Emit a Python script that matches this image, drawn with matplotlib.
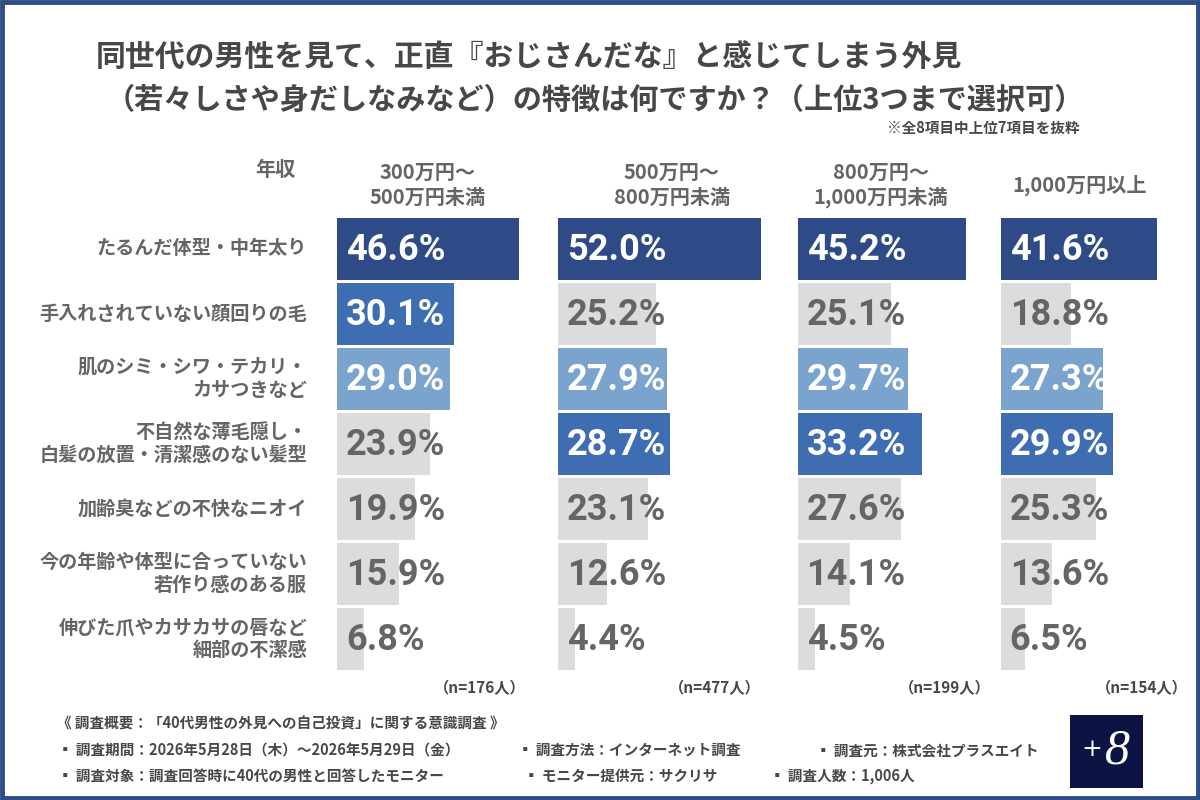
import matplotlib
matplotlib.use("Agg")
import matplotlib.pyplot as plt
from matplotlib.patches import Rectangle

plt.rcParams['font.family'] = ['Noto Sans CJK JP', 'DejaVu Sans']

# data
items = [
    'たるんだ体型・中年太り',
    '手入れされていない顔回りの毛',
    '肌のシミ・シワ・テカリ・\nカサつきなど',
    '不自然な薄毛隠し・\n白髪の放置・清潔感のない髪型',
    '加齢臭などの不快なニオイ',
    '今の年齢や体型に合っていない\n若作り感のある服',
    '伸びた爪やカサカサの唇など\n細部の不潔感',
]
groups = ['300万円～\n500万円未満', '500万円～\n800万円未満', '800万円～\n1,000万円未満', '1,000万円以上']
n_labels = ['（n=176人）', '（n=477人）', '（n=199人）', '（n=154人）']
inc_300_500 = [46.6, 30.1, 29.0, 23.9, 19.9, 15.9, 6.8]
inc_500_800 = [52.0, 25.2, 27.9, 28.7, 23.1, 12.6, 4.4]
inc_800_1000 = [45.2, 25.1, 29.7, 33.2, 27.6, 14.1, 4.5]
inc_1000_up = [41.6, 18.8, 27.3, 29.9, 25.3, 13.6, 6.5]
values = [inc_300_500, inc_500_800, inc_800_1000, inc_1000_up]

rank_colors = ['#2e4b88', '#3e6db1', '#7aa3cd']
gray_bar = '#dcdcdf'
text_dark = '#474747'
text_gray = '#656565'

W, H = 1200, 800
fig = plt.figure(figsize=(12, 8), dpi=100)
fig.patch.set_facecolor('white')

# outer frame
fig.patches.append(Rectangle((0.0015, 0.002), 0.997, 0.996, transform=fig.transFigure,
                             fill=False, edgecolor='#2e4d86', linewidth=3.5))

def fx(px):
    return px / W

def fy(py):
    return 1 - py / H

# title
fig.text(fx(96), fy(58), '同世代の男性を見て、正直『おじさんだな』と感じてしまう外見',
         fontsize=21.5, fontweight='bold', color=text_dark, ha='left', va='center')
fig.text(fx(1084), fy(100), '（若々しさや身だしなみなど）の特徴は何ですか？（上位3つまで選択可）',
         fontsize=21, fontweight='bold', color=text_dark, ha='right', va='center')
fig.text(fx(1080), fy(128), '※全8項目中上位7項目を抜粋',
         fontsize=10.5, fontweight='bold', color=text_dark, ha='right', va='center')

fig.text(fx(275), fy(170), '年収', fontsize=14.5, fontweight='bold', color=text_gray,
         ha='center', va='center')

panel_x = [337, 558, 798, 1001]
scale = [3.9, 3.9, 3.72, 3.75]
xmax = 55
top, pitch = 216.5, 65
n_rows = len(items)
ax_h = pitch * n_rows
head_x = [428, 672, 881, 1080]
n_x = [480, 715, 945, 1142]

for i, vals in enumerate(values):
    w = xmax * scale[i]
    ax = fig.add_axes([fx(panel_x[i]), fy(top + ax_h), fx(w), ax_h / H])
    order = sorted(range(n_rows), key=lambda k: -vals[k])
    cols = [gray_bar] * n_rows
    for r, k in enumerate(order[:3]):
        cols[k] = rank_colors[r]
    ypos = list(range(n_rows))
    ax.barh(ypos, vals, height=0.955, color=cols, edgecolor='none')
    for k, v in enumerate(vals):
        tc = 'white' if cols[k] != gray_bar else text_gray
        ax.text(2.3, k + 0.02, f'{v:.1f}%', fontsize=26, fontweight='bold',
                family=['Roboto', 'DejaVu Sans'], color=tc, ha='left', va='center')
    ax.set_xlim(0, xmax)
    ax.set_ylim(n_rows - 0.5, -0.5)
    ax.axis('off')

    fig.text(fx(head_x[i]), fy(185), groups[i], fontsize=14.5, fontweight='bold',
             color=text_gray, ha='center', va='center', linespacing=1.2)
    fig.text(fx(n_x[i]), fy(688), n_labels[i], fontsize=11, fontweight='bold',
             color=text_dark, ha='center', va='center')

# category labels
for k, lab in enumerate(items):
    fig.text(fx(307), fy(top + pitch * (k + 0.5)), lab, fontsize=13.8, fontweight='bold',
             color=text_gray, ha='right', va='center', linespacing=1.25)

# footer
fs = 10.5
fig.text(fx(57), fy(723), '《 調査概要：「40代男性の外見への自己投資」に関する意識調査 》',
         fontsize=fs, fontweight='bold', color=text_dark, va='center')
row2 = [(58, '▪ 調査期間：2026年5月28日（木）～2026年5月29日（金）'),
        (518, '▪ 調査方法：インターネット調査'),
        (816, '▪ 調査元：株式会社プラスエイト')]
row3 = [(58, '▪ 調査対象：調査回答時に40代の男性と回答したモニター'),
        (524, '▪ モニター提供元：サクリサ'),
        (770, '▪ 調査人数：1,006人')]
for x, t in row2:
    fig.text(fx(x), fy(750), t, fontsize=fs, fontweight='bold', color=text_dark, va='center')
for x, t in row3:
    fig.text(fx(x), fy(776), t, fontsize=fs, fontweight='bold', color=text_dark, va='center')

# logo
fig.patches.append(Rectangle((fx(1070), fy(788)), fx(73), 73 / H, transform=fig.transFigure,
                             facecolor='#0b1442', edgecolor='none'))
fig.text(fx(1092), fy(750), '+', fontsize=18, color='white', ha='center', va='center',
         family=['DejaVu Serif'])
fig.text(fx(1117), fy(751), '8', fontsize=36, color='white', ha='center', va='center',
         family=['Liberation Serif', 'DejaVu Serif'], style='italic')

fig.savefig('out.png', dpi=100, facecolor='white')
